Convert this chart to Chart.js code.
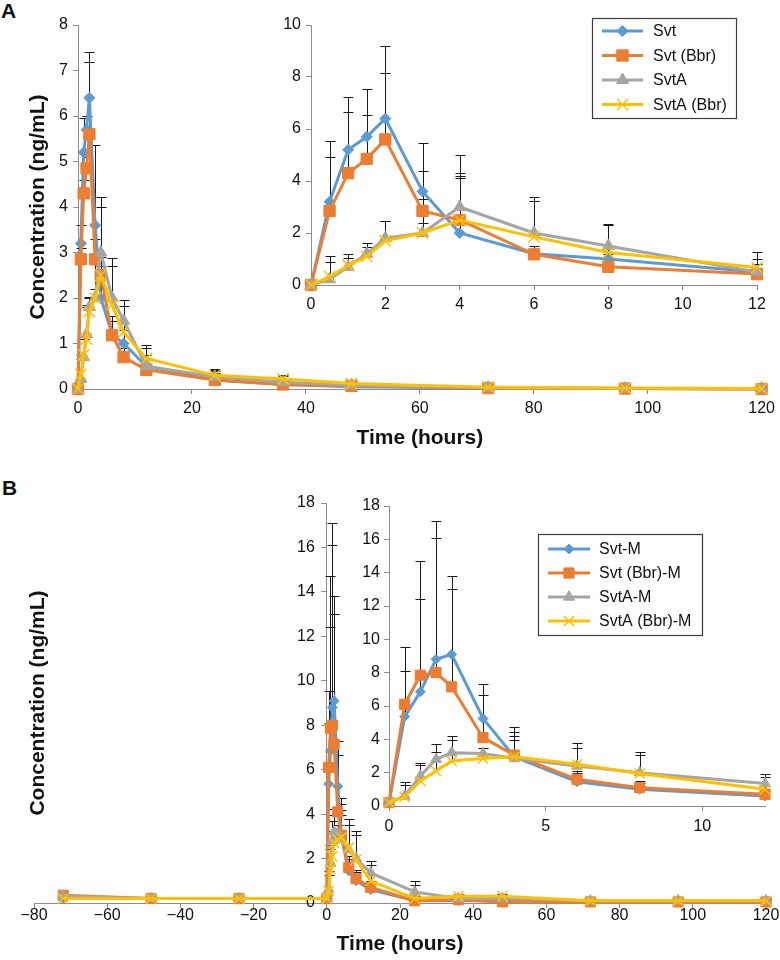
<!DOCTYPE html>
<html>
<head>
<meta charset="utf-8">
<script src="https://cdn.jsdelivr.net/npm/chart.js@4.4.1/dist/chart.umd.min.js"></script>
<style>
  html, body { margin: 0; padding: 0; background: #fff; }
  #page { position: relative; width: 780px; height: 960px; overflow: hidden; font-family: 'Liberation Sans', Arial, sans-serif; }
  .panel-label { position: absolute; font-weight: bold; font-size: 21px; line-height: 1; color: #111; }
  canvas { position: absolute; }
</style>
</head>
<body>
<div id="page">
  <div class="panel-label" style="left:1px;top:0px">A</div>
  <div class="panel-label" style="left:2px;top:477px">B</div>
  <canvas id="main-a" width="780" height="455" style="left:0;top:0"></canvas>
  <canvas id="inset-a" width="530" height="320" style="left:250px;top:0"></canvas>
  <canvas id="main-b" width="780" height="500" style="left:0;top:460px"></canvas>
  <canvas id="inset-b" width="450" height="370" style="left:330px;top:470px"></canvas>
</div>
<script>
/* data: panel A (parent drug) */
const timesA = [0, 0.5, 1, 1.5, 2, 3, 4, 6, 8, 12, 24, 36, 48, 72, 96, 120];
const labelsA = ['Svt', 'Svt (Bbr)', 'SvtA', 'SvtA (Bbr)'];
const svt = [0, 3.2, 5.2, 5.7, 6.4, 3.6, 2.0, 1.2, 1.0, 0.5, 0.2, 0.1, 0.05, 0.02, 0.01, 0];
const svtBbr = [0, 2.85, 4.3, 4.85, 5.6, 2.85, 2.5, 1.18, 0.7, 0.42, 0.2, 0.1, 0.07, 0.02, 0.01, 0];
const svtA = [0, 0.22, 0.7, 1.2, 1.8, 2.0, 3.0, 2.0, 1.5, 0.5, 0.27, 0.15, 0.08, 0.03, 0.01, 0.01];
const svtABbr = [0, 0.32, 0.75, 1.1, 1.7, 2.0, 2.5, 1.85, 1.25, 0.67, 0.3, 0.22, 0.12, 0.04, 0.02, 0.01];

// upper ends of the error bars, main panel A
const svtUpperMain = [0, 3.6, 5.95, 6.0, 7.4, 5.37, 2.9, 1.6, 1.3, 0.75, 0.42, 0.25, 0.12, 0.04, 0.02, 0.01];
const svtBbrUpperMain = [0, 3.1, 4.6, 5.1, 7.18, 3.3, 2.7, 1.5, 0.9, 0.55, 0.35, 0.2, 0.12, 0.05, 0.02, 0.01];
const svtAUpperMain = [0.05, 0.75, 1.15, 1.85, 2.03, 2.9, 4.23, 2.88, 1.96, 0.97, 0.45, 0.3, 0.15, 0.05, 0.03, 0.02];
const svtABbrUpperMain = [0.05, 0.65, 1.1, 1.8, 2.0, 2.2, 4.0, 2.7, 1.83, 0.9, 0.4, 0.28, 0.15, 0.05, 0.03, 0.02];

// upper ends of the error bars, inset A (0-12 h)
const svtUpperInset = [0, 5.55, 7.25, 7.55, 9.2, 5.45, 4.1, 1.5, 1.2, 0.8];
const svtBbrUpperInset = [0, 4.92, 6.65, 6.55, 8.15, 4.4, 4.3, 1.4, 0.9, 0.6];
const svtAUpperInset = [0, 1.13, 1.19, 1.6, 2.47, 2.4, 5.0, 3.4, 2.35, 1.26];
const svtABbrUpperInset = [0, 0.9, 1.05, 1.45, 2.45, 3.3, 4.2, 3.25, 2.3, 1.0];

/* data: panel B (metabolite) */
const timesB = [-72, -48, -24, 0, 0.5, 1, 1.5, 2, 3, 4, 6, 8, 12, 24, 36, 48, 72, 96, 120];
const labelsB = ['Svt-M', 'Svt (Bbr)-M', 'SvtA-M', 'SvtA (Bbr)-M'];
const svtM = [0.2, 0.2, 0.2, 0.2, 5.36, 6.85, 8.8, 9.1, 5.25, 2.95, 1.45, 1.0, 0.6, 0.1, 0.1, 0.1, 0.05, 0.05, 0.05];
const svtBbrM = [0.35, 0.2, 0.2, 0.2, 6.1, 7.85, 8.0, 7.15, 4.1, 3.05, 1.6, 1.1, 0.7, 0.1, 0.15, 0.05, 0.05, 0.05, 0.05];
const svtAM = [0.3, 0.2, 0.2, 0.2, 0.6, 1.8, 2.8, 3.2, 3.15, 2.85, 2.4, 2.0, 1.35, 0.5, 0.2, 0.2, 0.1, 0.1, 0.1];
const svtABbrM = [0.2, 0.2, 0.2, 0.2, 0.55, 1.5, 2.1, 2.7, 2.85, 2.95, 2.5, 1.95, 1.0, 0.2, 0.3, 0.3, 0.1, 0.1, 0.1];

const svtMUpper = [0.2, 0.2, 0.2, 0.2, 8.12, 12.4, 17.1, 13.8, 7.3, 4.72, 2.0, 1.4, 0.9, 0.3, 0.3, 0.3, 0.15, 0.15, 0.15];
const svtBbrMUpper = [0.35, 0.2, 0.2, 0.2, 9.56, 14.72, 16.1, 13.0, 6.64, 4.46, 2.1, 1.5, 1.0, 0.3, 0.3, 0.2, 0.15, 0.15, 0.15];
const svtAMUpper = [0.3, 0.2, 0.2, 0.2, 1.46, 2.6, 3.7, 4.22, 3.5, 4.2, 3.76, 3.26, 1.9, 0.97, 0.35, 0.35, 0.2, 0.2, 0.2];
const svtABbrMUpper = [0.2, 0.2, 0.2, 0.2, 1.26, 2.44, 3.26, 3.96, 3.2, 3.96, 3.5, 3.06, 1.72, 0.82, 0.4, 0.4, 0.2, 0.2, 0.2];

/* styles */
const FONT_FAMILY = "'Liberation Sans', Arial, sans-serif";
const TEXT_COLOR = '#111';
const AXIS_COLOR = '#8c8c8c';
const SERIES_STYLES = [
  { color: '#5B9BD5', pointStyle: 'rectRot', radius: 5.5, pointBorderWidth: 1 },
  { color: '#ED7D31', pointStyle: 'rect', radius: 8, pointBorderWidth: 1 },
  { color: '#A5A5A5', pointStyle: 'triangle', radius: 7, pointBorderWidth: 1 },
  { color: '#FFC000', pointStyle: 'crossRot', radius: 8, pointBorderWidth: 1.5 },
];

Chart.defaults.font.family = FONT_FAMILY;
Chart.defaults.color = TEXT_COLOR;

/* utilities */
const toPoints = (times, values) => times.map((time, index) => ({ x: time, y: values[index] }));

const fixSize = (size) => (scale) => {
  if (scale.isHorizontal()) {
    scale.height = size;
  } else {
    scale.width = size;
  }
};

const formatMinus = (value) => (value < 0 ? '\u2212' + Math.abs(value) : String(value));

const buildDatasets = (labels, times, valueLists, upperLists, markerScale) => {
  return labels.map((label, index) => {
    const style = SERIES_STYLES[index];
    return {
      label: label,
      data: toPoints(times, valueLists[index]),
      upper: upperLists[index],
      borderColor: style.color,
      backgroundColor: style.color,
      pointBackgroundColor: style.color,
      pointBorderColor: style.color,
      pointStyle: style.pointStyle,
      pointRadius: style.radius * markerScale,
      pointBorderWidth: style.pointBorderWidth,
      borderWidth: 3,
      tension: 0,
      clip: false,
      order: labels.length - index,
    };
  });
};

const axis = (min, max, stepSize, extra = {}) => {
  return Object.assign({
    type: 'linear',
    min: min,
    max: max,
    ticks: { stepSize: stepSize, font: { size: 16 }, color: TEXT_COLOR, padding: 5 },
    grid: { drawOnChartArea: false, drawTicks: true, tickLength: 5, color: AXIS_COLOR },
    border: { display: true, color: AXIS_COLOR, width: 1 },
  }, extra);
};

const axisTitle = (text, padding) => ({
  display: true,
  text: text,
  color: TEXT_COLOR,
  font: { size: 21, weight: 'bold' },
  padding: padding,
});

/* plugins */
const errorBarPlugin = {
  id: 'errorBars',
  beforeDatasetsDraw(chart) {
    const { ctx, chartArea } = chart;
    const xScale = chart.scales.x;
    const yScale = chart.scales.y;
    ctx.save();
    ctx.beginPath();
    ctx.rect(chartArea.left - 6, chartArea.top - 2, chartArea.right - chartArea.left + 12, chartArea.bottom - chartArea.top + 2);
    ctx.clip();
    ctx.strokeStyle = '#1a1a1a';
    ctx.lineWidth = 1;
    chart.data.datasets.forEach((dataset) => {
      (dataset.upper || []).forEach((top, index) => {
        const point = dataset.data[index];
        if (!point || top <= point.y) {
          return;
        }
        const px = Math.round(xScale.getPixelForValue(point.x)) + 0.5;
        const y0 = yScale.getPixelForValue(point.y);
        const y1 = Math.round(yScale.getPixelForValue(top)) + 0.5;
        ctx.beginPath();
        ctx.moveTo(px, y0);
        ctx.lineTo(px, y1);
        ctx.moveTo(px - 5, y1);
        ctx.lineTo(px + 5, y1);
        ctx.stroke();
      });
    });
    ctx.restore();
  },
};

// a y axis placed at x = 0 draws its labels flush with the axis line;
// move them left past the tick marks, like a normal left axis
const crossingAxisLabelsPlugin = {
  id: 'crossingAxisLabels',
  beforeDraw(chart, args, opts) {
    if (!opts || !opts.scaleId) {
      return;
    }
    const scale = chart.scales[opts.scaleId];
    const items = scale.getLabelItems();
    if (items.shifted) {
      return;
    }
    const offset = scale.options.grid.tickLength + scale.options.ticks.padding;
    items.forEach((item) => {
      item.options.translation[0] -= offset;
    });
    items.shifted = true;
  },
};

const boxLegendPlugin = {
  id: 'boxLegend',
  afterDraw(chart, args, opts) {
    if (!opts || opts.width === undefined) {
      return;
    }
    const { ctx } = chart;
    ctx.save();
    ctx.fillStyle = '#fff';
    ctx.fillRect(opts.left, opts.top, opts.width, opts.height);
    ctx.strokeStyle = '#3c3c3c';
    ctx.lineWidth = 1.2;
    ctx.strokeRect(opts.left + 0.5, opts.top + 0.5, opts.width, opts.height);

    chart.data.datasets.forEach((dataset, index) => {
      const cy = opts.firstRow + index * opts.rowGap;
      ctx.strokeStyle = dataset.borderColor;
      ctx.lineWidth = dataset.borderWidth;
      ctx.beginPath();
      ctx.moveTo(opts.lineX, cy);
      ctx.lineTo(opts.lineX + opts.lineLength, cy);
      ctx.stroke();

      ctx.fillStyle = dataset.pointBackgroundColor;
      ctx.strokeStyle = dataset.pointBorderColor;
      ctx.lineWidth = dataset.pointBorderWidth;
      Chart.helpers.drawPoint(ctx, {
        pointStyle: dataset.pointStyle,
        radius: dataset.pointRadius,
        borderWidth: dataset.pointBorderWidth,
        rotation: 0,
      }, opts.lineX + opts.lineLength / 2, cy);

      ctx.fillStyle = TEXT_COLOR;
      ctx.font = '16px ' + FONT_FAMILY;
      ctx.textBaseline = 'middle';
      ctx.textAlign = 'left';
      ctx.fillText(dataset.label, opts.textX, cy + 1);
    });
    ctx.restore();
  },
};

const createChart = (id, datasets, scales, padding, extraPlugins = {}) => {
  return new Chart(document.getElementById(id), {
    type: 'line',
    data: { datasets: datasets },
    options: {
      responsive: false,
      animation: false,
      events: [],
      layout: { padding: padding },
      scales: scales,
      plugins: Object.assign({
        legend: { display: false },
        tooltip: { enabled: false },
        boxLegend: {},
        crossingAxisLabels: {},
      }, extraPlugins),
    },
    plugins: [errorBarPlugin, crossingAxisLabelsPlugin, boxLegendPlugin],
  });
};

/* panel A */
createChart('main-a',
  buildDatasets(labelsA, timesA, [svt, svtBbr, svtA, svtABbr],
    [svtUpperMain, svtBbrUpperMain, svtAUpperMain, svtABbrUpperMain], 1),
  {
    x: axis(0, 120, 20, { title: axisTitle('Time (hours)', 0), afterFit: fixSize(62) }),
    y: axis(0, 8, 1, { title: axisTitle('Concentration (ng/mL)', { top: 26, bottom: 0 }), afterFit: fixSize(78) }),
  },
  { left: 0, top: 25, right: 14, bottom: 4 });

const insetCountA = 10;
createChart('inset-a',
  buildDatasets(labelsA, timesA.slice(0, insetCountA),
    [svt, svtBbr, svtA, svtABbr].map((values) => values.slice(0, insetCountA)),
    [svtUpperInset, svtBbrUpperInset, svtAUpperInset, svtABbrUpperInset], 1),
  {
    x: axis(0, 12, 2, { afterFit: fixSize(35) }),
    y: axis(0, 10, 2, { afterFit: fixSize(61) }),
  },
  { left: 0, top: 25, right: 23, bottom: 0 },
  { boxLegend: { left: 342, top: 18, width: 144, height: 100, firstRow: 31, rowGap: 24.5, lineX: 352, lineLength: 41, textX: 403 } });

/* panel B */
const mainBScales = {
  x: axis(-80, 120, 20, { title: axisTitle('Time (hours)', 0), afterFit: fixSize(54) }),
  y: axis(0, 18, 2, { position: { x: 0 }, z: 1 }),
  yTitle: {
    type: 'linear',
    position: 'left',
    min: 0,
    max: 1,
    ticks: { display: false },
    grid: { display: false, drawTicks: false },
    border: { display: false },
    title: axisTitle('Concentration (ng/mL)', { top: 26, bottom: 0 }),
    afterFit: fixSize(34),
  },
};
mainBScales.x.ticks.callback = formatMinus;
mainBScales.x.ticks.padding = -2;
mainBScales.y.ticks.padding = 7;

const mainBDatasets = buildDatasets(labelsB, timesB, [svtM, svtBbrM, svtAM, svtABbrM],
  [svtMUpper, svtBbrMUpper, svtAMUpper, svtABbrMUpper], 0.9);
mainBDatasets.forEach((dataset) => { dataset.yAxisID = 'y'; });
createChart('main-b', mainBDatasets, mainBScales, { left: 0, top: 43, right: 14, bottom: 3 },
  { crossingAxisLabels: { scaleId: 'y' } });

const insetStartB = 3;
const insetEndB = 13;
const insetBScales = {
  x: axis(0, 12, 5, { afterFit: fixSize(34) }),
  y: axis(0, 18, 2, { afterFit: fixSize(59) }),
};
insetBScales.x.ticks.includeBounds = false;
insetBScales.x.ticks.padding = 6;
insetBScales.y.ticks.padding = 4;
createChart('inset-b',
  buildDatasets(labelsB, timesB.slice(insetStartB, insetEndB),
    [svtM, svtBbrM, svtAM, svtABbrM].map((values) => values.slice(insetStartB, insetEndB)),
    [svtMUpper, svtBbrMUpper, svtAMUpper, svtABbrMUpper].map((values) => values.slice(insetStartB, insetEndB)), 0.9),
  insetBScales,
  { left: 0, top: 36, right: 15, bottom: 0 },
  { boxLegend: { left: 208, top: 64, width: 164, height: 101, firstRow: 79, rowGap: 24, lineX: 218, lineLength: 42, textX: 269 } });
</script>
</body>
</html>
